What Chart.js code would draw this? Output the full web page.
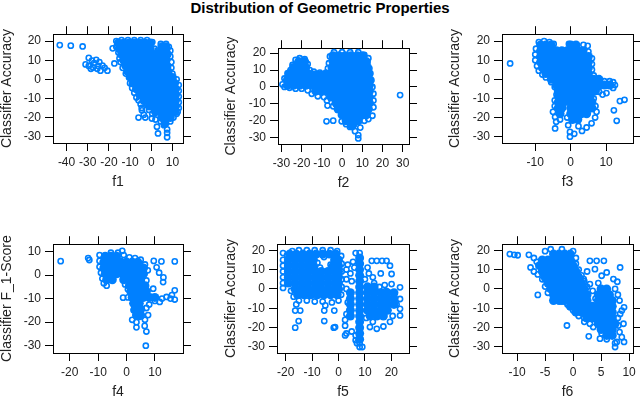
<!DOCTYPE html>
<html>
<head>
<meta charset="utf-8">
<script src="https://cdn.jsdelivr.net/npm/chart.js@4.4.0/dist/chart.umd.min.js"></script>
<style>
body{margin:0;width:640px;height:398px;overflow:hidden;background:#fff;position:relative;font-family:"Liberation Sans",Arial,sans-serif;}
#title{position:absolute;left:0;top:0;width:640px;text-align:center;font-weight:bold;font-size:15px;line-height:15px;color:#000;}
canvas{position:absolute;}
</style>
</head>
<body>
<div id="title">Distribution of Geometric Properties</div>
<canvas id="p1"></canvas>
<canvas id="p2"></canvas>
<canvas id="p3"></canvas>
<canvas id="p4"></canvas>
<canvas id="p5"></canvas>
<canvas id="p6"></canvas>
<script>
/* tick labels */
var accTicks = [-30,-20,-10,0,10,20];
var f1Ticks = [-40,-30,-20,-10,0,10];
var f2Ticks = [-30,-20,-10,0,10,20,30];
var f3Ticks = [-10,0,10];
var f4Ticks = [-20,-10,0,10];
var f4yTicks = [-30,-20,-10,0,10];
var f5Ticks = [-20,-10,0,10,20];
var f6Ticks = [-10,-5,0,5,10];

/* f1: dense core + single points */
var f1Core = [
[-15.5,19],[-13,19],[-10.5,19],[-8,19],[-5.5,19],[-3,19],[-0.5,19],[5,17],[7,17],
[-15,16],[-12.5,16],[-10,16],[-7.5,16],[-5,16],[-2.5,16],[-0.5,16],[4.5,14.5],[7,14.5],
[-14,13],[-11.5,13],[-9,13],[-6.5,13],[-4,13],[-1.5,13],[1,13],[3.5,13],[6,13],[7.5,13],
[-13,10],[-10.5,10],[-8,10],[-5.5,10],[-3,10],[-0.5,10],[2,10],[4.5,10],[7,10],
[-12,7],[-9.5,7],[-7,7],[-4.5,7],[-2,7],[0.5,7],[3,7],[5.5,7],[7.5,7],
[-11,4],[-8.5,4],[-6,4],[-3.5,4],[-1,4],[1.5,4],[4,4],[6.5,4],[8,4],
[-9.5,1],[-7,1],[-4.5,1],[-2,1],[0.5,1],[3,1],[5.5,1],[8,1],[10,1],
[-8.5,-2],[-6,-2],[-3.5,-2],[-1,-2],[1.5,-2],[4,-2],[6.5,-2],[9,-2],[11,-2],
[-7,-5],[-4.5,-5],[-2,-5],[0.5,-5],[3,-5],[5.5,-5],[8,-5],[10.5,-5],[11.5,-5],
[-5.5,-8],[-3,-8],[-0.5,-8],[2,-8],[4.5,-8],[7,-8],[9.5,-8],[11.5,-8],
[-3.5,-11],[-1,-11],[1.5,-11],[4,-11],[6.5,-11],[9,-11],[11.5,-11],
[-1,-14],[1.5,-14],[4,-14],[6.5,-14],[9,-14],[11.5,-14],
[2,-17],[4.5,-17],[7,-17],[9.5,-17],[11,-17],
[5,-20],[7.5,-20],[9,-20],[6.5,-23]
];
var f1Pts = [
[-43.2,17.9],[-38,17.6],[-32.4,17.2],
[-29.5,11.2],[-28,9.8],[-26,10.2],[-27,8.5],[-24.5,9],[-31,7.8],[-29.5,7],[-27.5,6.2],[-25.5,5.5],[-24,4.5],[-23,7.2],[-22,6],[-20.7,4.5],[-25,7],[-28.5,5.5],[-17.4,8.3],[-18.2,16.2],
[-16.5,20],[-14,20.5],[-11,20.5],[-8,20.5],[-5,20.5],[-2,20.5],[0.5,19.5],[1.5,16],[3,15],[4.5,18.5],[7,18.5],[8.3,17],
[-16.5,17],[-15.5,14],[-15,11],[-14.5,9],[-13.5,6],[-12,3],[-10.5,1],[-10,-2],[-9,-4.5],[-8,-7],[-7,-9.5],[-6,-11],[-5,-13],[-4.5,-15],[-4.4,-16.2],[-3.6,-11],[-2,-13],[-1,-16],[0.5,-18],
[-6,-20],[-2.8,-20],[0.3,-20.5],[2.7,-24.8],[3.2,-28.3],[7.5,-26.2],[7.5,-30.3],[7.5,-28],[4.5,-22],[6,-24],[9,-22],[10.5,-20],[12,-18],[2,-21],[-3.5,-18.5],
[9,15],[9,12],[9.5,9],[9.5,6],[10,3],[12,0],[13,-3],[13,-6],[13,-9],[13,-12],[13,-15],[12.5,-17]
];

/* f2 */
var f2Core = [
[-4.5,18.5],[-1.5,18.5],[1.5,18.5],[4.5,18.5],[7.5,18.5],[10,18.5],
[-21.5,15],[-18.5,15],[-4.5,15],[-1.5,15],[1.5,15],[4.5,15],[7.5,15],[10.5,15],[12,15],
[-24,11.5],[-21,11.5],[-18,11.5],[-5,11.5],[-2,11.5],[1,11.5],[4,11.5],[7,11.5],[10,11.5],[12.5,11.5],
[-26,8],[-23,8],[-20,8],[-17,8],[-14,7],[-11,7],[-8,7],[-5,8],[-2,8],[1,8],[4,8],[7,8],[10,8],[13,8],
[-27,4.5],[-24,4.5],[-21,4.5],[-18,4.5],[-15,4.5],[-12,4.5],[-9,4.5],[-6,4.5],[-3,4.5],[0,4.5],[3,4.5],[6,4.5],[9,4.5],[12,4.5],[13.5,4.5],
[-27,1],[-24,1],[-21,1],[-18,1],[-15,1],[-12,1],[-9,1],[-6,1],[-3,1],[0,1],[3,1],[6,1],[9,1],[12,1],[13.5,1],
[-13,-2.5],[-10,-2.5],[-7,-2.5],[-4,-2.5],[-1,-2.5],[2,-2.5],[5,-2.5],[8,-2.5],[11,-2.5],[13.5,-2.5],
[-5.5,-6],[-3,-6],[0,-6],[3,-6],[6,-6],[9,-6],[12,-6],[13.5,-6],
[-3,-9.5],[0,-9.5],[3,-9.5],[6,-9.5],[9,-9.5],[12,-9.5],[13.5,-9.5],
[-2,-13],[1,-13],[4,-13],[7,-13],[10,-13],[13,-13],
[0,-16.5],[3,-16.5],[6,-16.5],[9,-16.5],[12,-16.5],
[2,-20],[5,-20],[8,-20],[5,-23]
];
var f2Pts = [
[28.7,-4.8],
[-7.2,-11],[-4.4,-11.4],[-7.7,-20.3],[-4.4,-19.9],[-0.2,-20.3],[3.9,-23.6],[6.4,-26.1],[8,-28.4],[8,-30.4],[2,-22],[6,-22],[9,-24],[11,-20],[13,-19],[15,-17],
[15.5,-12],[15.5,-8],[15.5,-4],[15,0],[14.5,4],[14,8],[13.5,11],[12.5,14],[13,17],[11,19],[8,20.5],[4,20.5],[0,20.5],[-4,20.5],[-6,18],[-6.5,14],[-7,11],
[-8,8.5],[-11,8.5],[-14,9],[-16,10],[-17,13.5],[-18.5,16.5],[-21,17],[-23,16],[-24.5,13],[-25.5,10],[-27,8],[-28.5,5],[-29.5,1.5],[-28.5,0],[-26,-0.5],[-23,-1],[-20,-1],[-17,-2],[-15,-4],[-12,-5.5],[-9,-6],[-7.5,-8]
];

/* f3 */
var f3Core = [
[-8.5,18],[-7,18],[-5.5,18],[0,18],[1.5,18],
[-8.5,15],[-7,15],[-5.5,15],[-4,15],[-2.5,15],[-1,15],[0.5,15],[2,15],[3.5,15],
[-8.5,12],[-7,12],[-5.5,12],[-4,12],[-2.5,12],[-1,12],[0.5,12],[2,12],[3.5,12],[5,12],
[-8.5,9],[-7,9],[-5.5,9],[-4,9],[-2.5,9],[-1,9],[0.5,9],[2,9],[3.5,9],[5,9],
[-8,6],[-6.5,6],[-5,6],[-3.5,6],[-2,6],[-0.5,6],[1,6],[2.5,6],[4,6],[5,6],
[-7,3],[-5.5,3],[-4,3],[-2.5,3],[-1,3],[0.5,3],[2,3],[3.5,3],[5,3],
[-5.5,0],[-4,0],[-2.5,0],[-1,0],[0.5,0],[2,0],[3.5,0],[5,0],[6.5,0],[8,0],
[-4,-3],[-2.5,-3],[-1,-3],[0.5,-3],[2,-3],[3.5,-3],[5,-3],[6.5,-3],[8,-3],[9.5,-3],[11,-3],
[-3.5,-6],[-2,-6],[-0.5,-6],[1,-6],[2.5,-6],[4,-6],[5.5,-6],[7,-6],
[-3.5,-9],[-2,-9],[-0.5,-9],[1,-9],[2.5,-9],[4,-9],[5.5,-9],
[-3.5,-12],[-2,-12],[0,-12],[1.5,-12],[3,-12],[4.5,-12],[6,-12],
[-3.5,-15],[-2.5,-15],[0,-15],[1.5,-15],[3,-15],[4.5,-15],[6,-15],
[-3,-18],[0,-18],[1.5,-18],[3,-18],[4.5,-18],
[0.5,-21],[2,-21]
];
var f3Pts = [
[-17.1,8.3],[-9.8,16],[-9,19.5],[-7.5,20],[-6,19.5],[-4.8,18.5],[-10,13],[-10,10],[-9.5,7],[-9,4.5],[-8,2.5],[-7,1],[-5.5,-1.5],[-4.5,-4],[-4,-8],[-4.5,-11],[-4.5,-14],[-5,-17],
[-4.4,-19.7],[-4.1,-22.2],[-4.4,-25.7],[-3,-21],[-1,-20],[-0.7,-24],[-0.2,-27.5],[-0.2,-30],[1,-28.5],[2.2,-24.5],[3.2,-27],[4.5,-25.2],[5.9,-23],[6.9,-20],[7.3,-17],[7,-14],[6.5,-10],
[9,-8],[10.1,-7.2],[8,-6.5],[12,-1.5],[12,-4.5],[12.5,-3],[11,-1],[9.5,-1],[13.9,-11.4],[15.2,-10.7],[12.2,-16.2],[13,-21.7],
[-0.5,18.5],[1,18],[3.6,18],[4.8,17.5],[5,14.5],[6,11],[6,8],[6,5],[6.5,2],[7.5,0]
];

/* f4 */
var f4Core = [
[-7.5,8],[-5.5,8],[-3.5,8],
[-8,5.5],[-6,5.5],[-4,5.5],[-2,5.5],[0,5.5],[2,5.5],[4,5.5],
[-8,3],[-6,3],[-4,3],[-2,3],[0,3],[2,3],[4,3],[6,3],
[-7.5,0.5],[-5.5,0.5],[-3.5,0.5],[-1.5,0.5],[0.5,0.5],[2.5,0.5],[4.5,0.5],[6,0.5],
[-7,-2],[-5,-2],[-1,-2],[1,-2],[3,-2],[5,-2],
[1,-4.5],[3,-4.5],[5,-4.5],[6.5,-4.5],
[1.5,-7],[3.5,-7],[5.5,-7],[7,-7],
[2,-9.5],[4,-9.5],[6,-9.5],[8,-9.5],[10,-9.5],
[2.5,-12],[4.5,-12],[3,-14.5],[5,-14.5],[3.5,-17],[5,-17]
];
var f4Pts = [
[-23.2,5.9],[-13.5,7.2],[-13.1,6.4],[-1.5,10.3],[-9.5,8.5],[-9.5,6],[-9.5,3.5],[-9,1],[-8.5,-1.5],[-8,-3.5],[-7,-4.5],[-5.5,9.5],[-3,9.5],[-1,8.5],[1,7.5],[3,7.2],[5,6.5],[6.5,4.5],[7.5,2],
[9.6,6],[12.3,5.8],[17,5.8],[10.6,3.3],[11.5,1],[13,-1],[7,-2.3],[9.4,-5.8],[12.9,-3],[17,-6.5],[17,-10.4],[14.1,-9.3],[11.7,-11.4],[8.8,-9.3],[10,-11],[12.5,-10],[15.5,-10],[16,-8.5],
[-1.2,-9.6],[0.5,-9.5],[0.5,-6],[-0.5,-4],[3.5,-22.2],[6.4,-21.6],[7,-24],[6.8,-30],[4.7,-17.7],[7.6,-17],[6.5,-19],[2,-19],[2.5,-15],[7,-14],[8,-12.5],[3.5,-20]
];

/* f5 */
var f5Core = [
[-18.5,18],[-16,18],[-13.5,18],[-11,18],[-8.5,18],[-6,18],[-3.5,18],[-1,18],
[-19,15],[-16.5,15],[-14,15],[-11.5,15],[-9.5,15],[-1.5,15],[0,15],
[-19,12],[-16.5,12],[-14,12],[-11.5,12],[-9.5,12],[-2,12],[0,12],
[-19,9],[-16.5,9],[-14,9],[-11.5,9],[-9,9],[-6.5,9],[-4,9],[-1.5,9],[0,9],
[-19,6],[-16.5,6],[-14,6],[-11.5,6],[-9,6],[-6.5,6],[-4,6],[-1.5,6],[0,6],
[-19,3],[-16.5,3],[-14,3],[-11.5,3],[-9,3],[-6.5,3],[-4,3],[-1.5,3],[0,3],
[-16.5,0],[-14,0],[-11.5,0],[-9,0],[-6.5,0],[-4,0],[-1.5,0],[0,0],
[-15.5,-3],[-13,-3],[-10.5,-3],[-8,-3],[-5.5,-3],[-3,-3],[-0.5,-3],
[8,16],[8,13],[8,10],[8,7],[8,4],[8,1],[8,-2],[8,-5],[8,-8],[8,-11],[8,-14],[8,-17],[8,-20],[8,-23],[8,-26],
[4.5,-2],[4.5,-5],[4.5,-8],[4.5,-11],[4.5,-14],
[11,1],[13.5,1],
[11,-2],[13.5,-2],[16,-2],[18.5,-2],[21,-2],
[11,-5],[13.5,-5],[16,-5],[18.5,-5],[21,-5],
[11,-8],[13.5,-8],[16,-8],[18.5,-8],[21,-8],
[11,-11],[13.5,-11],[16,-11],[18.5,-11],
[12,-14],[14.5,-14],[17,-14]
];
var f5Pts = [
[-21,18.5],[-21,15],[-21,12],[-21,9],[-21,6],[-21,3],[-21,0.5],[-19.5,17.5],[-17.5,19.5],[-15,20],[-12,20],[-9,20],[-6,20],[-3,20],[-0.5,19.5],[1,17],[1.2,13],[1.2,9],[1.2,5],[1.2,1],[1,-3],[0,-6],
[-2.5,-7],[-6,-6.5],[-9,-6.5],[-12,-6],[-15,-6],[-17,-4],[-18,-1],[-8,13.5],[-3,12.5],[-5.5,16.5],[-7,11],
[-16.4,-11.2],[-14.5,-11.2],[-15.1,-16.6],[-16.4,-20],[-5.4,-16.6],[-5.4,-11.2],[-1.6,-11.2],[-1.3,-19.7],[-1.8,-20],[-16,-8],[-5,-8.5],
[2.5,-24],[3,-23],[2.5,-19],[3,10],[3.5,12.5],[4.5,8],[5.5,14],[6,11],[3,5],[5,4],[3,0],[6.5,-24],[6.5,-26.5],[7,-28],[8,-30],[8,-28],[3.5,-7],[3,-13],[2.5,-16],[6.5,18.5],[8,18.5],[9,-30],[5,-22],
[12.6,14.5],[14.5,14.5],[16.5,14.5],[18.2,14.5],[11,11],[11.5,8],[16,8],[19.5,12],[20.1,7.7],[20.1,2.5],[23.3,0.8],[23.3,-5.2],[23.3,-10.3],[23.3,-13.7],
[11.9,-19.7],[14.5,-20.6],[17,-19.4],[19.5,-17],[13,-17],[10.5,-15],[11,1.5],[13.5,3],[15.5,1],[17.5,2],[13,6],[18,-1],[20.5,-14],[22,-8],[10,5],[21,-3]
];

/* f6 */
var f6Core = [
[-3.5,18],[-2.5,18],[-1.5,18],[-0.5,18],
[-5.5,15],[-4.5,15],[-3.5,15],[-2.5,15],[-1.5,15],[-0.5,15],
[-6,12],[-5,12],[-4,12],[-3,12],[-2,12],[-1,12],[0,12],
[-5.5,9],[-4.5,9],[-3.5,9],[-2.5,9],[-1.5,9],[-0.5,9],[0.5,9],
[-5,6],[-4,6],[-3,6],[-2,6],[-1,6],[0,6],[1,6],
[-4.5,3],[-3.5,3],[-2.5,3],[-1.5,3],[-0.5,3],[0.5,3],[1.5,3],
[-4,0],[-3,0],[-2,0],[-1,0],[0,0],[1,0],[2,0],[5,0],[6,0],
[-3.5,-3],[-2.5,-3],[-1.5,-3],[-0.5,-3],[0.5,-3],[1.5,-3],[2.5,-3],[4.5,-3],[5.5,-3],[6.5,-3],
[-3.5,-6],[-2.5,-6],[-1.5,-6],[-0.5,-6],[0.5,-6],[1.5,-6],[2.5,-6],[4.5,-6],[5.5,-6],[6.5,-6],[7,-6],
[-0.5,-9],[0.5,-9],[1.5,-9],[2.5,-9],[3.5,-9],[4.5,-9],[5.5,-9],[6.5,-9],[7,-9],
[0.5,-12],[1.5,-12],[2.5,-12],[3.5,-12],[4.5,-12],[5.5,-12],[6.5,-12],[7,-12],
[2.5,-15],[3.5,-15],[4.5,-15],[5.5,-15],[6.5,-15],[7,-15],
[4.5,-18],[5.5,-18],[6.5,-18],[7.5,-18],
[5,-21],[6,-21],[7,-21],[6,-24],[7,-24]
];
var f6Pts = [
[-11.3,18],[-10.5,17.6],[-9.9,17.4],[-7.9,17.6],[-7,16],[-6.5,14],[-7.6,11.1],[-7,9],[-6.3,7.5],[-5.5,5],[-6.3,-3.1],[-5,1.2],[-4.5,-2],[-3.5,-5.5],[-2,-6.5],[-1,-8],[0,-11],[1,-14],[2,-15],[-1.1,-18.9],
[-5,19.5],[-4,20.5],[-2,20.5],[0,19.5],[0.5,16],[0.5,13],[1,10],[1.5,7],[2,4],[2.5,1],
[3,14.5],[4.2,14.5],[5.5,14.5],[8.4,11.1],[7.2,5.1],[7.9,3.7],[6,8.5],[3.9,10.2],[5.1,6.8],[2.5,9],[1.9,5.1],[3,2.5],[4.5,3],[3.5,-1],[4,-5],
[8.3,-6],[8.7,-11.2],[9.1,-9.5],[8.4,-12.9],[8.1,-18.9],[9,-18],[8.3,-22.3],[8.7,-24.9],[7.8,-27.4],[9.1,-27.4],[7.5,-30],[7.5,-28],[8,-3],[7.5,0],
[2.8,-24.5],[4.8,-25.7],[5.1,-23],[3.6,-19.7],[3,-18],[2,-17],[6,-26],[8,-15]
];

var blue = '#0080ff';
var fam = '"Liberation Sans", Arial, sans-serif';

function toXY(list){
    return list.map(function(p){ return {x: p[0], y: p[1]}; });
}

function mkAxis(pos, min, max, tickVals, size, title){
    var horiz = (pos == 'top' || pos == 'bottom');
    var labelled = (pos == 'left' || pos == 'bottom');
    return {
        type: 'linear',
        position: pos,
        min: min,
        max: max,
        afterBuildTicks: function(s){
            s.ticks = tickVals.map(function(v){ return {value: v}; });
        },
        afterFit: function(s){
            if (horiz) s.height = size; else s.width = size;
        },
        grid: {display: true, drawOnChartArea: false, drawTicks: true, tickLength: 8, color: '#000', lineWidth: 1},
        border: {display: true, color: '#000', width: 1},
        ticks: {
            display: labelled, padding: 4, color: '#222', autoSkip: false, maxRotation: 0,
            font: {family: fam, size: 12},
            callback: function(v){ return String(v); }
        },
        title: {display: !!title, text: title || '', color: '#222', font: {family: fam, size: 14}, padding: 0}
    };
}

// p: canvas id, left/top of the canvas, left axis width, plot box size
function makePanel(p){
    var cv = document.getElementById(p.id);
    cv.width = p.lw + p.bw + 10;
    cv.height = 10 + p.bh + 48;
    cv.style.left = p.left + 'px';
    cv.style.top = p.top + 'px';
    new Chart(cv, {
        type: 'scatter',
        data: {
            datasets: [
                {data: toXY(p.core), pointRadius: 4.5, pointBorderWidth: 0, pointBackgroundColor: blue, borderColor: blue, pointHoverRadius: 4.5},
                {data: toXY(p.pts), pointRadius: 2.6, pointBorderWidth: 1.6, pointBorderColor: blue, borderColor: blue, pointBackgroundColor: 'rgba(0,0,0,0)', pointHoverRadius: 2.6}
            ]
        },
        options: {
            responsive: false,
            animation: false,
            events: [],
            layout: {padding: 0},
            plugins: {legend: {display: false}, tooltip: {enabled: false}},
            scales: {
                x: mkAxis('bottom', p.xr[0], p.xr[1], p.xt, 48, p.xlab),
                x2: mkAxis('top', p.xr[0], p.xr[1], p.xt, 10),
                y: mkAxis('left', p.yr[0], p.yr[1], p.yt, p.lw, p.ylab),
                y2: mkAxis('right', p.yr[0], p.yr[1], p.yt, 10)
            }
        }
    });
}

makePanel({id: 'p1', left: -1, top: 23, lw: 54, bw: 130, bh: 110, xr: [-46.4, 15], yr: [-33.3, 23.6], xt: f1Ticks, yt: accTicks, xlab: 'f1', ylab: 'Classifier Accuracy', core: f1Core, pts: f1Pts});
makePanel({id: 'p2', left: 223, top: 37, lw: 55, bw: 131, bh: 97, xr: [-31.7, 33.1], yr: [-33.7, 22.9], xt: f2Ticks, yt: accTicks, xlab: 'f2', ylab: 'Classifier Accuracy', core: f2Core, pts: f2Pts});
makePanel({id: 'p3', left: 447, top: 23, lw: 55, bw: 131, bh: 110, xr: [-19.4, 17.6], yr: [-33.3, 23.6], xt: f3Ticks, yt: accTicks, xlab: 'f3', ylab: 'Classifier Accuracy', core: f3Core, pts: f3Pts});
makePanel({id: 'p4', left: -1, top: 233, lw: 54, bw: 130, bh: 110, xr: [-25.9, 19.9], yr: [-33.1, 13.1], xt: f4Ticks, yt: f4yTicks, xlab: 'f4', ylab: 'Classifier F_1-Score', core: f4Core, pts: f4Pts});
makePanel({id: 'p5', left: 223, top: 233, lw: 54, bw: 132, bh: 110, xr: [-23.3, 26.7], yr: [-33.1, 23.1], xt: f5Ticks, yt: accTicks, xlab: 'f5', ylab: 'Classifier Accuracy', core: f5Core, pts: f5Pts});
makePanel({id: 'p6', left: 447, top: 233, lw: 55, bw: 131, bh: 110, xr: [-12.7, 10.7], yr: [-33.1, 23.1], xt: f6Ticks, yt: accTicks, xlab: 'f6', ylab: 'Classifier Accuracy', core: f6Core, pts: f6Pts});
</script>
</body>
</html>
